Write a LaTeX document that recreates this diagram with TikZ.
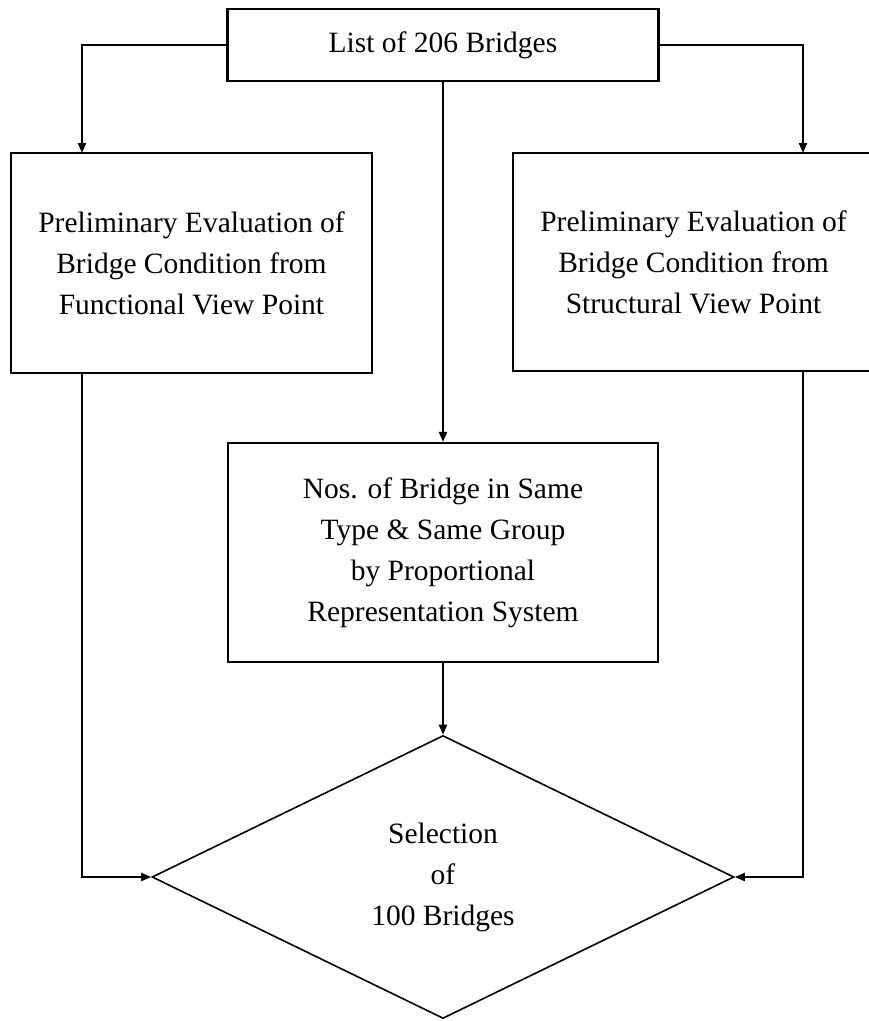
\documentclass[tikz,border=0pt]{standalone}
\usepackage{fontspec}
\setmainfont{Liberation Serif}
\usepackage{tikz}
\usetikzlibrary{arrows.meta,positioning,shapes.geometric}
\tikzset{
  stage/.style={rectangle, draw=black, line width=2.2pt, inner sep=0pt, align=center, font=\fontsize{29.5}{41}\selectfont},
  choice/.style={diamond, draw=black, line width=1.6pt, inner sep=0pt, align=center, minimum width=582pt, minimum height=283pt, font=\fontsize{29.5}{41}\selectfont},
  arrow/.style={-{Triangle[length=10pt,width=8pt]}, line width=2pt, draw=black}
}
\begin{document}
\begin{tikzpicture}[x=1pt,y=-1pt]
\useasboundingbox (0,0) rectangle (869,1021);
\clip (0,0) rectangle (869,1021);
\node[stage, minimum width=431pt, minimum height=72pt] (list) at (443,45) {List of 206 Bridges};
\node[stage, minimum width=361pt, minimum height=220pt] (func) at (191.5,263) {Preliminary Evaluation of\\Bridge Condition from\\Functional View Point};
\node[stage, minimum width=361pt, minimum height=218pt] (struct) at (693.5,262) {Preliminary Evaluation of\\Bridge Condition from\\Structural View Point};
\node[stage, minimum width=430pt, minimum height=219pt] (prop) at (443,552.5) {Nos. of Bridge in Same\\Type \& Same Group\\by Proportional\\Representation System};
\node[choice] (select) at (443,877) {Selection\\of\\100 Bridges};
\coordinate (funcin) at (82,153);
\coordinate (funcout) at (82,373);
\coordinate (structin) at (803,153);
\coordinate (structout) at (803,371);
\draw[arrow] (list.west) -| (funcin);
\draw[arrow] (list.east) -| (structin);
\draw[arrow] (list.south) -- (prop.north);
\draw[arrow] (prop.south) -- (select.north);
\draw[arrow] (funcout) |- (select.west);
\draw[arrow] (structout) |- (select.east);
\end{tikzpicture}
\end{document}
